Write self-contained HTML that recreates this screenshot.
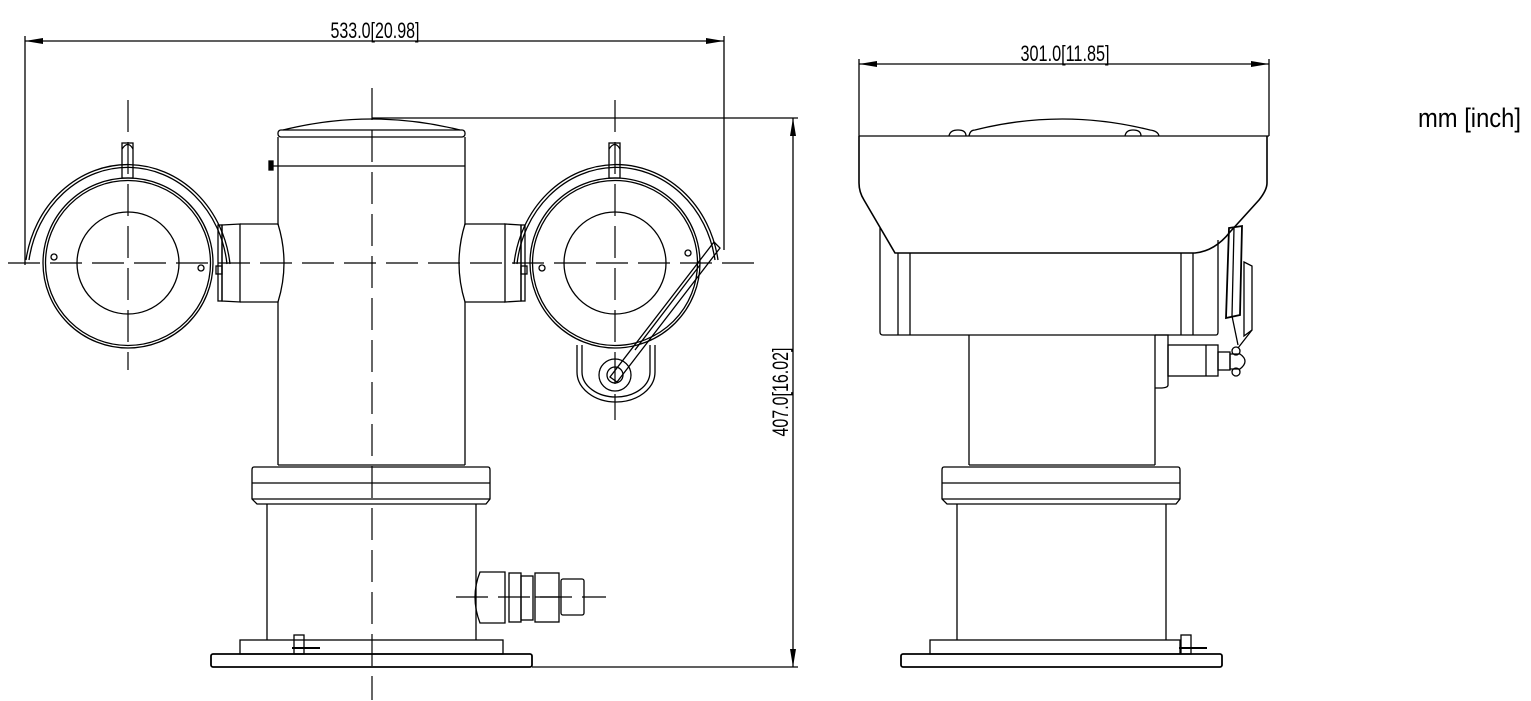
<!DOCTYPE html>
<html><head><meta charset="utf-8"><style>
html,body{margin:0;padding:0;background:#fff;width:1531px;height:701px;overflow:hidden}
svg{display:block}
text{font-family:"Liberation Sans",sans-serif;fill:#000}
</style></head><body>
<svg width="1531" height="701" viewBox="0 0 1531 701" xmlns="http://www.w3.org/2000/svg">
<defs>
<marker id="ar" markerWidth="18" markerHeight="6" refX="18" refY="3" orient="auto" markerUnits="userSpaceOnUse"><path d="M0,0 L18,3 L0,6 z" fill="#000"/></marker>
<marker id="al" markerWidth="18" markerHeight="6" refX="0" refY="3" orient="auto" markerUnits="userSpaceOnUse"><path d="M18,0 L0,3 L18,6 z" fill="#000"/></marker>
</defs>
<g fill="none" stroke="#000" stroke-width="1.3">
<line x1="25" y1="41" x2="724" y2="41" marker-start="url(#al)" marker-end="url(#ar)"/>
<line x1="25" y1="36" x2="25" y2="265"/>
<line x1="724" y1="36" x2="724" y2="250"/>
<line x1="372" y1="118" x2="798" y2="118"/>
<line x1="532" y1="667" x2="798" y2="667"/>
<line x1="793" y1="118" x2="793" y2="667" marker-start="url(#al)" marker-end="url(#ar)"/>
<line x1="372" y1="88" x2="372" y2="700" stroke-dasharray="32,10" stroke-width="1.2"/>
<line x1="8" y1="263" x2="760" y2="263" stroke-dasharray="32,10" stroke-width="1.2"/>
<line x1="128" y1="100" x2="128" y2="370" stroke-dasharray="32,10" stroke-width="1.2"/>
<line x1="615" y1="100" x2="615" y2="420" stroke-dasharray="32,10" stroke-width="1.2"/>
<line x1="456" y1="597" x2="606" y2="597" stroke-dasharray="32,10" stroke-width="1.2"/>

<path d="M283,130 Q372,108 460,130"/>
<rect x="278" y="130" width="187" height="7" rx="3"/>
<line x1="278" y1="137" x2="278" y2="225"/><line x1="278" y1="302" x2="278" y2="465"/>
<line x1="465" y1="137" x2="465" y2="225"/><line x1="465" y1="302" x2="465" y2="465"/>
<line x1="272" y1="166" x2="465" y2="166"/>
<rect x="269" y="161" width="4" height="9" fill="#000"/>
<line x1="278" y1="465" x2="465" y2="465"/>
<path d="M254,467 H488 Q490,467 490,470 V499 L486,504 H257 L252,499 V470 Q252,467 254,467 Z"/>
<line x1="252" y1="483" x2="490" y2="483"/><line x1="252" y1="499" x2="490" y2="499"/>
<line x1="267" y1="504" x2="267" y2="640"/><line x1="476" y1="504" x2="476" y2="640"/>
<rect x="240" y="640" width="263" height="14"/>
<rect x="211" y="654" width="321" height="13" rx="2" stroke-width="1.8"/>
<rect x="294" y="635" width="10" height="19"/><line x1="292" y1="648" x2="320" y2="648" stroke-width="2"/>
<path d="M480,572 H505 V623 H480 Q470,597 480,572 Z"/>
<rect x="509" y="573" width="12" height="49"/>
<rect x="521" y="576" width="12" height="44"/>
<rect x="535" y="573" width="24" height="49"/>
<line x1="535" y1="597" x2="559" y2="597"/>
<rect x="561" y="579" width="23" height="36" rx="2"/>

<circle cx="128" cy="263" r="85"/><circle cx="128" cy="263" r="82.5"/>
<circle cx="128" cy="263" r="51"/>
<path d="M26,260 A103,113 0 0 1 230,264"/>
<path d="M29,260 A100,110 0 0 1 227,264"/>
<rect x="122" y="143" width="11" height="35"/>
<path d="M122,149 Q128,140 133,149"/>
<circle cx="54" cy="257" r="3"/><circle cx="201" cy="268" r="3"/>
<rect x="216" y="266" width="6" height="8"/>
<rect x="218" y="225" width="4" height="76"/>
<path d="M222,225 L240,224 V302 L222,301 Z"/>
<path d="M240,224 H278 Q290,263 278,302 H240"/>

<circle cx="615" cy="263" r="85"/><circle cx="615" cy="263" r="82.5"/>
<circle cx="615" cy="263" r="51"/>
<path d="M514,264 A103,113 0 0 1 718,260"/>
<path d="M517,264 A100,110 0 0 1 715,260"/>
<rect x="609" y="143" width="11" height="35"/>
<path d="M609,149 Q615,140 620,149"/>
<circle cx="542" cy="268" r="3"/><circle cx="688" cy="253" r="3"/>
<rect x="521" y="266" width="6" height="8"/>
<rect x="521" y="225" width="4" height="76"/>
<path d="M521,225 L505,224 V302 L521,301 Z"/>
<path d="M505,224 H465 Q453,263 465,302 H505"/>
<path d="M577,345 V372 A39,30 0 0 0 655,372 V345"/>
<path d="M582,345 V372 A34,25 0 0 0 650,372 V345"/>
<circle cx="615" cy="375" r="16"/><circle cx="615" cy="375" r="8"/>
<path d="M714,242 L720,248 L617,382 L610,377 Z"/>
<line x1="700" y1="265" x2="635" y2="350"/>

<line x1="859" y1="64" x2="1269" y2="64" marker-start="url(#al)" marker-end="url(#ar)"/>
<line x1="859" y1="59" x2="859" y2="136"/>
<line x1="1269" y1="59" x2="1269" y2="136"/>
<path d="M969,136 Q970,130 975,130 Q1062,108 1150,130 Q1158,131 1159,136"/>
<path d="M949,136 Q950,130 958,130 Q966,130 966,136"/><path d="M1125,136 Q1126,130 1133,130 Q1141,130 1141,136"/>
<line x1="859" y1="136" x2="1269" y2="136"/>
<path d="M859,136 V183 Q859,192 864,200 L895,253 H1195 Q1215,251 1230,232 L1259,200 Q1267,190 1267,183 V136" stroke-width="1.6"/>
<path d="M880,228 V332 Q880,335 883,335 H1216 Q1218,335 1218,332 V240"/>
<line x1="898" y1="253" x2="898" y2="335"/><line x1="910" y1="253" x2="910" y2="335"/>
<line x1="1181" y1="253" x2="1181" y2="335"/><line x1="1193" y1="253" x2="1193" y2="335"/>
<line x1="969" y1="335" x2="969" y2="465"/><line x1="1155" y1="335" x2="1155" y2="465"/>
<path d="M1155,335 H1168 V385 Q1168,388 1160,388 H1155"/>
<rect x="1168" y="345" width="50" height="31"/><line x1="1206" y1="345" x2="1206" y2="376"/>
<rect x="1218" y="352" width="12" height="18"/>
<path d="M1230,354 H1240 Q1250,361 1240,369 H1230 Z"/>
<circle cx="1236" cy="351" r="4"/><circle cx="1236" cy="372" r="4"/>
<path d="M1229,228 L1242,226 L1240,315 L1226,318 Z" stroke-width="1.8"/>
<line x1="1234" y1="228" x2="1232" y2="316"/>
<path d="M1244,262 L1252,266 V330 L1244,336 Z"/>
<path d="M1232,316 L1238,345 M1252,330 L1238,348"/>
<line x1="969" y1="465" x2="1155" y2="465"/>
<path d="M944,467 H1178 Q1180,467 1180,470 V499 L1176,504 H947 L942,499 V470 Q942,467 944,467 Z"/>
<line x1="942" y1="483" x2="1180" y2="483"/><line x1="942" y1="499" x2="1180" y2="499"/>
<line x1="957" y1="504" x2="957" y2="640"/><line x1="1166" y1="504" x2="1166" y2="640"/>
<rect x="930" y="640" width="250" height="14"/>
<rect x="901" y="654" width="321" height="13" rx="2" stroke-width="1.8"/>
<rect x="1181" y="635" width="10" height="19"/><line x1="1179" y1="648" x2="1207" y2="648" stroke-width="2"/>
</g>
<text x="375" y="38" font-size="22" text-anchor="middle" textLength="89" lengthAdjust="spacingAndGlyphs">533.0[20.98]</text>
<text x="1065" y="61" font-size="22" text-anchor="middle" textLength="89" lengthAdjust="spacingAndGlyphs">301.0[11.85]</text>
<text transform="translate(788,392) rotate(-90)" font-size="22" text-anchor="middle" textLength="89" lengthAdjust="spacingAndGlyphs">407.0[16.02]</text>
<text x="1418" y="127" font-size="27" textLength="103" lengthAdjust="spacingAndGlyphs">mm [inch]</text>
</svg>
</body></html>
